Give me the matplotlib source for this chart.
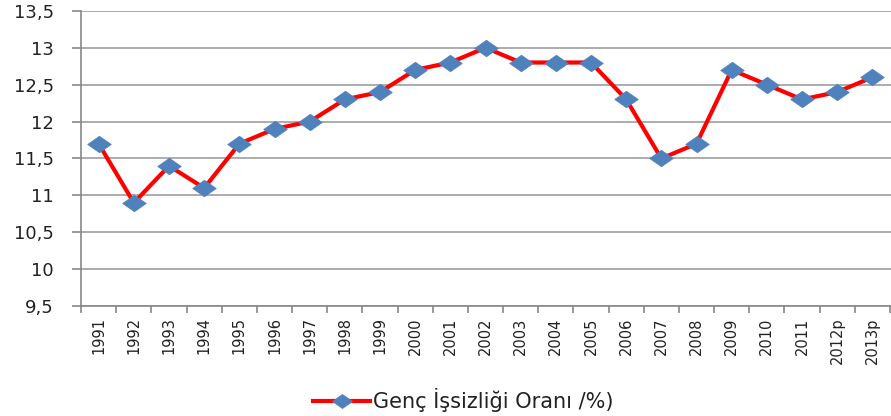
import matplotlib
matplotlib.use("Agg")
import matplotlib.pyplot as plt
import numpy as np
from matplotlib.ticker import FixedLocator, FuncFormatter
from matplotlib.path import Path

years = ["1991", "1992", "1993", "1994", "1995", "1996", "1997", "1998", "1999", "2000",
         "2001", "2002", "2003", "2004", "2005", "2006", "2007", "2008", "2009", "2010",
         "2011", "2012p", "2013p"]
rates = [11.7, 10.9, 11.4, 11.1, 11.7, 11.9, 12.0, 12.3, 12.4, 12.7,
         12.8, 13.0, 12.8, 12.8, 12.8, 12.3, 11.5, 11.7, 12.7, 12.5,
         12.3, 12.4, 12.6]
yticks = [9.5, 10, 10.5, 11, 11.5, 12, 12.5, 13, 13.5]
series_name = "Genç İşsizliği Oranı /%)"

wide_diamond = Path([(-1, 0), (0, 0.7), (1, 0), (0, -0.7), (-1, 0)],
                    [Path.MOVETO, Path.LINETO, Path.LINETO, Path.LINETO, Path.CLOSEPOLY])

fig = plt.figure(figsize=(8.91, 4.16), dpi=100)
ax = fig.add_axes([0.091, 0.264, 0.909, 0.71])

x = np.arange(len(years))
ax.plot(x, rates, color="#FF0000", lw=3.0, marker=wide_diamond, markersize=17,
        markerfacecolor="#4F81BD", markeredgecolor="#4F81BD", markeredgewidth=0.5,
        label=series_name, solid_joinstyle="round", zorder=3)

ax.set_xlim(-0.5, len(years) - 0.5 + 0.03)
ax.set_ylim(9.5, 13.5)
ax.set_yticks(yticks)
ax.yaxis.set_major_formatter(FuncFormatter(lambda v, p: (f"{v:g}").replace(".", ",")))
ax.set_xticks(x)
ax.set_xticklabels(years, rotation=90, fontsize=10.5, color="#222222")
ax.xaxis.set_minor_locator(FixedLocator(np.arange(-0.5, len(years), 1.0)))
ax.tick_params(axis="x", which="major", length=0, pad=8)
ax.tick_params(axis="x", which="minor", length=5, color="#888888", width=1.2, direction="out")
ax.tick_params(axis="y", length=6.5, color="#888888", width=1.2, labelsize=13,
               labelcolor="#222222", pad=13)

ax.grid(axis="y", color="#A6A6A6", lw=1.3)
ax.set_axisbelow(True)
for s in ["top", "right"]:
    ax.spines[s].set_visible(False)
for s in ["left", "bottom"]:
    ax.spines[s].set_color("#888888")
    ax.spines[s].set_linewidth(1.2)

leg = fig.legend(loc="center", bbox_to_anchor=(0.52, 0.038), frameon=False,
                 prop={"size": 15}, labelcolor="#222222",
                 handlelength=2.7, handletextpad=0.15, markerscale=0.85)

fig.savefig("out.png", dpi=100)
